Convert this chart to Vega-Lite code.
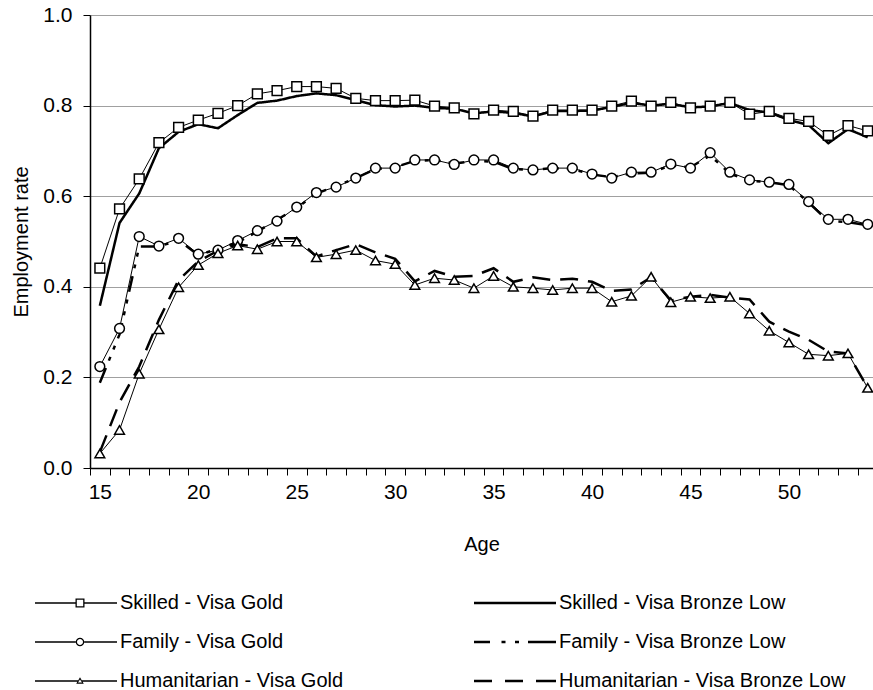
{
  "$schema": "https://vega.github.io/schema/vega-lite/v6.json",
  "width": 783,
  "height": 453,
  "autosize": {"type": "none"},
  "padding": {"left": 90, "top": 15, "right": 0, "bottom": 222},
  "background": "white",
  "config": {
    "view": {"stroke": null},
    "font": "Liberation Sans",
    "axis": {"labelFont": "Liberation Sans", "titleFont": "Liberation Sans", "labelColor": "black", "titleColor": "black", "titleFontWeight": "normal", "domainColor": "black", "tickColor": "black"}
  },
  "data": {"values": [
    {"age":15,"Skilled - Visa Gold":0.441,"Skilled - Visa Bronze Low":0.358,"Family - Visa Gold":0.224,"Family - Visa Bronze Low":0.188,"Humanitarian - Visa Gold":0.032,"Humanitarian - Visa Bronze Low":0.035},
    {"age":16,"Skilled - Visa Gold":0.572,"Skilled - Visa Bronze Low":0.541,"Family - Visa Gold":0.308,"Family - Visa Bronze Low":0.295,"Humanitarian - Visa Gold":0.084,"Humanitarian - Visa Bronze Low":0.145},
    {"age":17,"Skilled - Visa Gold":0.638,"Skilled - Visa Bronze Low":0.606,"Family - Visa Gold":0.511,"Family - Visa Bronze Low":0.489,"Humanitarian - Visa Gold":0.208,"Humanitarian - Visa Bronze Low":0.224},
    {"age":18,"Skilled - Visa Gold":0.718,"Skilled - Visa Bronze Low":0.706,"Family - Visa Gold":0.490,"Family - Visa Bronze Low":0.489,"Humanitarian - Visa Gold":0.306,"Humanitarian - Visa Bronze Low":0.327},
    {"age":19,"Skilled - Visa Gold":0.752,"Skilled - Visa Bronze Low":0.742,"Family - Visa Gold":0.507,"Family - Visa Bronze Low":0.503,"Humanitarian - Visa Gold":0.399,"Humanitarian - Visa Bronze Low":0.415},
    {"age":20,"Skilled - Visa Gold":0.768,"Skilled - Visa Bronze Low":0.759,"Family - Visa Gold":0.472,"Family - Visa Bronze Low":0.470,"Humanitarian - Visa Gold":0.448,"Humanitarian - Visa Bronze Low":0.456},
    {"age":21,"Skilled - Visa Gold":0.783,"Skilled - Visa Bronze Low":0.750,"Family - Visa Gold":0.481,"Family - Visa Bronze Low":0.484,"Humanitarian - Visa Gold":0.474,"Humanitarian - Visa Bronze Low":0.480},
    {"age":22,"Skilled - Visa Gold":0.800,"Skilled - Visa Bronze Low":0.779,"Family - Visa Gold":0.502,"Family - Visa Bronze Low":0.498,"Humanitarian - Visa Gold":0.491,"Humanitarian - Visa Bronze Low":0.494},
    {"age":23,"Skilled - Visa Gold":0.826,"Skilled - Visa Bronze Low":0.806,"Family - Visa Gold":0.524,"Family - Visa Bronze Low":0.522,"Humanitarian - Visa Gold":0.483,"Humanitarian - Visa Bronze Low":0.488},
    {"age":24,"Skilled - Visa Gold":0.833,"Skilled - Visa Bronze Low":0.811,"Family - Visa Gold":0.545,"Family - Visa Bronze Low":0.548,"Humanitarian - Visa Gold":0.500,"Humanitarian - Visa Bronze Low":0.507},
    {"age":25,"Skilled - Visa Gold":0.842,"Skilled - Visa Bronze Low":0.821,"Family - Visa Gold":0.576,"Family - Visa Bronze Low":0.574,"Humanitarian - Visa Gold":0.500,"Humanitarian - Visa Bronze Low":0.507},
    {"age":26,"Skilled - Visa Gold":0.842,"Skilled - Visa Bronze Low":0.827,"Family - Visa Gold":0.608,"Family - Visa Bronze Low":0.606,"Humanitarian - Visa Gold":0.465,"Humanitarian - Visa Bronze Low":0.467},
    {"age":27,"Skilled - Visa Gold":0.838,"Skilled - Visa Bronze Low":0.823,"Family - Visa Gold":0.620,"Family - Visa Bronze Low":0.622,"Humanitarian - Visa Gold":0.472,"Humanitarian - Visa Bronze Low":0.481},
    {"age":28,"Skilled - Visa Gold":0.816,"Skilled - Visa Bronze Low":0.812,"Family - Visa Gold":0.640,"Family - Visa Bronze Low":0.640,"Humanitarian - Visa Gold":0.481,"Humanitarian - Visa Bronze Low":0.494},
    {"age":29,"Skilled - Visa Gold":0.811,"Skilled - Visa Bronze Low":0.801,"Family - Visa Gold":0.662,"Family - Visa Bronze Low":0.660,"Humanitarian - Visa Gold":0.458,"Humanitarian - Visa Bronze Low":0.476},
    {"age":30,"Skilled - Visa Gold":0.811,"Skilled - Visa Bronze Low":0.798,"Family - Visa Gold":0.662,"Family - Visa Bronze Low":0.664,"Humanitarian - Visa Gold":0.450,"Humanitarian - Visa Bronze Low":0.462},
    {"age":31,"Skilled - Visa Gold":0.812,"Skilled - Visa Bronze Low":0.800,"Family - Visa Gold":0.680,"Family - Visa Bronze Low":0.678,"Humanitarian - Visa Gold":0.404,"Humanitarian - Visa Bronze Low":0.412},
    {"age":32,"Skilled - Visa Gold":0.799,"Skilled - Visa Bronze Low":0.795,"Family - Visa Gold":0.680,"Family - Visa Bronze Low":0.680,"Humanitarian - Visa Gold":0.419,"Humanitarian - Visa Bronze Low":0.435},
    {"age":33,"Skilled - Visa Gold":0.795,"Skilled - Visa Bronze Low":0.793,"Family - Visa Gold":0.670,"Family - Visa Bronze Low":0.672,"Humanitarian - Visa Gold":0.415,"Humanitarian - Visa Bronze Low":0.422},
    {"age":34,"Skilled - Visa Gold":0.782,"Skilled - Visa Bronze Low":0.783,"Family - Visa Gold":0.680,"Family - Visa Bronze Low":0.678,"Humanitarian - Visa Gold":0.397,"Humanitarian - Visa Bronze Low":0.424},
    {"age":35,"Skilled - Visa Gold":0.790,"Skilled - Visa Bronze Low":0.787,"Family - Visa Gold":0.680,"Family - Visa Bronze Low":0.676,"Humanitarian - Visa Gold":0.424,"Humanitarian - Visa Bronze Low":0.441},
    {"age":36,"Skilled - Visa Gold":0.787,"Skilled - Visa Bronze Low":0.784,"Family - Visa Gold":0.662,"Family - Visa Bronze Low":0.660,"Humanitarian - Visa Gold":0.400,"Humanitarian - Visa Bronze Low":0.411},
    {"age":37,"Skilled - Visa Gold":0.777,"Skilled - Visa Bronze Low":0.776,"Family - Visa Gold":0.658,"Family - Visa Bronze Low":0.658,"Humanitarian - Visa Gold":0.397,"Humanitarian - Visa Bronze Low":0.421},
    {"age":38,"Skilled - Visa Gold":0.790,"Skilled - Visa Bronze Low":0.788,"Family - Visa Gold":0.662,"Family - Visa Bronze Low":0.662,"Humanitarian - Visa Gold":0.393,"Humanitarian - Visa Bronze Low":0.415},
    {"age":39,"Skilled - Visa Gold":0.790,"Skilled - Visa Bronze Low":0.788,"Family - Visa Gold":0.662,"Family - Visa Bronze Low":0.660,"Humanitarian - Visa Gold":0.397,"Humanitarian - Visa Bronze Low":0.418},
    {"age":40,"Skilled - Visa Gold":0.790,"Skilled - Visa Bronze Low":0.789,"Family - Visa Gold":0.649,"Family - Visa Bronze Low":0.648,"Humanitarian - Visa Gold":0.397,"Humanitarian - Visa Bronze Low":0.411},
    {"age":41,"Skilled - Visa Gold":0.799,"Skilled - Visa Bronze Low":0.797,"Family - Visa Gold":0.640,"Family - Visa Bronze Low":0.642,"Humanitarian - Visa Gold":0.367,"Humanitarian - Visa Bronze Low":0.391},
    {"age":42,"Skilled - Visa Gold":0.810,"Skilled - Visa Bronze Low":0.806,"Family - Visa Gold":0.653,"Family - Visa Bronze Low":0.650,"Humanitarian - Visa Gold":0.380,"Humanitarian - Visa Bronze Low":0.394},
    {"age":43,"Skilled - Visa Gold":0.799,"Skilled - Visa Bronze Low":0.800,"Family - Visa Gold":0.653,"Family - Visa Bronze Low":0.652,"Humanitarian - Visa Gold":0.422,"Humanitarian - Visa Bronze Low":0.421},
    {"age":44,"Skilled - Visa Gold":0.807,"Skilled - Visa Bronze Low":0.804,"Family - Visa Gold":0.671,"Family - Visa Bronze Low":0.668,"Humanitarian - Visa Gold":0.366,"Humanitarian - Visa Bronze Low":0.370},
    {"age":45,"Skilled - Visa Gold":0.795,"Skilled - Visa Bronze Low":0.796,"Family - Visa Gold":0.662,"Family - Visa Bronze Low":0.664,"Humanitarian - Visa Gold":0.378,"Humanitarian - Visa Bronze Low":0.378},
    {"age":46,"Skilled - Visa Gold":0.799,"Skilled - Visa Bronze Low":0.798,"Family - Visa Gold":0.696,"Family - Visa Bronze Low":0.690,"Humanitarian - Visa Gold":0.375,"Humanitarian - Visa Bronze Low":0.382},
    {"age":47,"Skilled - Visa Gold":0.807,"Skilled - Visa Bronze Low":0.806,"Family - Visa Gold":0.653,"Family - Visa Bronze Low":0.650,"Humanitarian - Visa Gold":0.378,"Humanitarian - Visa Bronze Low":0.376},
    {"age":48,"Skilled - Visa Gold":0.781,"Skilled - Visa Bronze Low":0.790,"Family - Visa Gold":0.636,"Family - Visa Bronze Low":0.634,"Humanitarian - Visa Gold":0.341,"Humanitarian - Visa Bronze Low":0.372},
    {"age":49,"Skilled - Visa Gold":0.787,"Skilled - Visa Bronze Low":0.785,"Family - Visa Gold":0.631,"Family - Visa Bronze Low":0.631,"Humanitarian - Visa Gold":0.303,"Humanitarian - Visa Bronze Low":0.323},
    {"age":50,"Skilled - Visa Gold":0.772,"Skilled - Visa Bronze Low":0.768,"Family - Visa Gold":0.626,"Family - Visa Bronze Low":0.624,"Humanitarian - Visa Gold":0.277,"Humanitarian - Visa Bronze Low":0.301},
    {"age":51,"Skilled - Visa Gold":0.765,"Skilled - Visa Bronze Low":0.757,"Family - Visa Gold":0.588,"Family - Visa Bronze Low":0.586,"Humanitarian - Visa Gold":0.251,"Humanitarian - Visa Bronze Low":0.283},
    {"age":52,"Skilled - Visa Gold":0.734,"Skilled - Visa Bronze Low":0.717,"Family - Visa Gold":0.549,"Family - Visa Bronze Low":0.545,"Humanitarian - Visa Gold":0.248,"Humanitarian - Visa Bronze Low":0.257},
    {"age":53,"Skilled - Visa Gold":0.756,"Skilled - Visa Bronze Low":0.748,"Family - Visa Gold":0.549,"Family - Visa Bronze Low":0.543,"Humanitarian - Visa Gold":0.253,"Humanitarian - Visa Bronze Low":0.253},
    {"age":54,"Skilled - Visa Gold":0.744,"Skilled - Visa Bronze Low":0.730,"Family - Visa Gold":0.538,"Family - Visa Bronze Low":0.536,"Humanitarian - Visa Gold":0.177,"Humanitarian - Visa Bronze Low":0.177}
  ]},
  "transform": [
    {"fold": ["Skilled - Visa Gold","Skilled - Visa Bronze Low","Family - Visa Gold","Family - Visa Bronze Low","Humanitarian - Visa Gold","Humanitarian - Visa Bronze Low"], "as": ["series","rate"]}
  ],
  "encoding": {
    "x": {"field": "age", "type": "quantitative",
      "scale": {"domain": [14.5, 54.27], "nice": false, "zero": false},
      "axis": {"title": "Age", "titleFontSize": 20, "titlePadding": 32, "labelFontSize": 21, "labelPadding": 6,
        "values": [14.5,15.5,16.5,17.5,18.5,19.5,20.5,21.5,22.5,23.5,24.5,25.5,26.5,27.5,28.5,29.5,30.5,31.5,32.5,33.5,34.5,35.5,36.5,37.5,38.5,39.5,40.5,41.5,42.5,43.5,44.5,45.5,46.5,47.5,48.5,49.5,50.5,51.5,52.5,53.5],
        "labelExpr": "((datum.value + 0.5) % 5 == 0 && datum.value < 50) ? format(datum.value + 0.5, 'd') : ''",
        "labelOffset": 9.85, "labelFlush": false, "labelOverlap": false, "labelBound": false,
        "tickSize": 7, "tickWidth": 1, "domainWidth": 1.5, "grid": false}},
    "y": {"field": "rate", "type": "quantitative",
      "scale": {"domain": [0, 1], "nice": false},
      "axis": {"title": "Employment rate", "titleFontSize": 20, "titlePadding": 11, "labelFontSize": 21, "labelPadding": 11,
        "values": [0, 0.2, 0.4, 0.6, 0.8, 1.0], "format": ".1f",
        "tickSize": 7, "tickWidth": 1, "domainWidth": 1.5,
        "grid": true, "gridColor": "#a0a0a0", "gridWidth": 1}}
  },
  "layer": [
    {
      "transform": [{"filter": "indexof(datum.series, 'Bronze') >= 0"}],
      "mark": {"type": "line", "color": "black", "strokeWidth": 2.5, "strokeCap": "butt"},
      "encoding": {
        "detail": {"field": "series"},
        "strokeDash": {"field": "series", "type": "nominal",
          "scale": {"domain": ["Skilled - Visa Bronze Low","Family - Visa Bronze Low","Humanitarian - Visa Bronze Low"],
                    "range": [[1,0],[16,8,4,8,4,8],[18,10]]},
          "legend": null}
      }
    },
    {
      "transform": [{"filter": "indexof(datum.series, 'Gold') >= 0"}],
      "mark": {"type": "line", "color": "black", "strokeWidth": 1},
      "encoding": {
        "detail": {"field": "series"}
      }
    },
    {
      "transform": [{"filter": "indexof(datum.series, 'Gold') >= 0"}],
      "mark": {"type": "point", "filled": false, "fill": "white", "stroke": "black", "strokeWidth": 1.5, "size": 95, "opacity": 1},
      "encoding": {
        "shape": {"field": "series", "type": "nominal",
          "scale": {"domain": ["Skilled - Visa Gold","Family - Visa Gold","Humanitarian - Visa Gold"], "range": ["square","circle","triangle-up"]},
          "legend": null}
      }
    },
    {
      "transform": [{"filter": "datum.age == 15"}],
      "mark": {"type": "point", "filled": true, "color": "black", "opacity": 0, "size": 100, "strokeWidth": 0},
      "encoding": {
        "shape": {"field": "series", "type": "nominal",
          "scale": {
            "domain": ["Skilled - Visa Gold","Family - Visa Gold","Humanitarian - Visa Gold","Skilled - Visa Bronze Low","Family - Visa Bronze Low","Humanitarian - Visa Bronze Low"],
            "range": [
              "M-1,-0.13H7.1V0.13H-1Z M8.9,-0.13H15.4V0.13H8.9Z M7.1,-0.9H8.9V0.9H7.1Z M7.36,-0.64V0.64H8.64V-0.64Z",
              "M-1,-0.13H7.15V0.13H-1Z M8.85,-0.13H15.4V0.13H8.85Z M7.15,0A0.85,0.85 0 1,1 8.85,0A0.85,0.85 0 1,1 7.15,0Z M7.4,0A0.6,0.6 0 1,0 8.6,0A0.6,0.6 0 1,0 7.4,0Z",
              "M-1,-0.13H7.6V0.13H-1Z M8.4,-0.13H15.4V0.13H8.4Z M8,-0.75L8.75,0.55L7.25,0.55Z M8,-0.28L7.6,0.32L8.4,0.32Z",
              "M-1,-0.25H15.4V0.25H-1Z",
              "M-1,-0.25H2.2V0.25H-1Z M4.5,-0.25H5.3V0.25H4.5Z M7.2,-0.25H8V0.25H7.2Z M9.8,-0.25H15.4V0.25H9.8Z",
              "M-1,-0.25H2.6V0.25H-1Z M5.2,-0.25H8.8V0.25H5.2Z M11.4,-0.25H15.4V0.25H11.4Z"
            ]},
          "legend": {
            "title": null, "orient": "none", "legendX": -60, "legendY": 578,
            "columns": 2, "columnPadding": 125, "rowPadding": 19, "padding": 0,
            "symbolSize": 100, "symbolOpacity": 1, "symbolFillColor": "black", "symbolStrokeWidth": 0,
            "labelOffset": 70, "labelFontSize": 20, "labelFont": "Liberation Sans", "labelColor": "black", "labelLimit": 400
          }}
      }
    }
  ],
  "resolve": {"scale": {"shape": "independent"}}
}
